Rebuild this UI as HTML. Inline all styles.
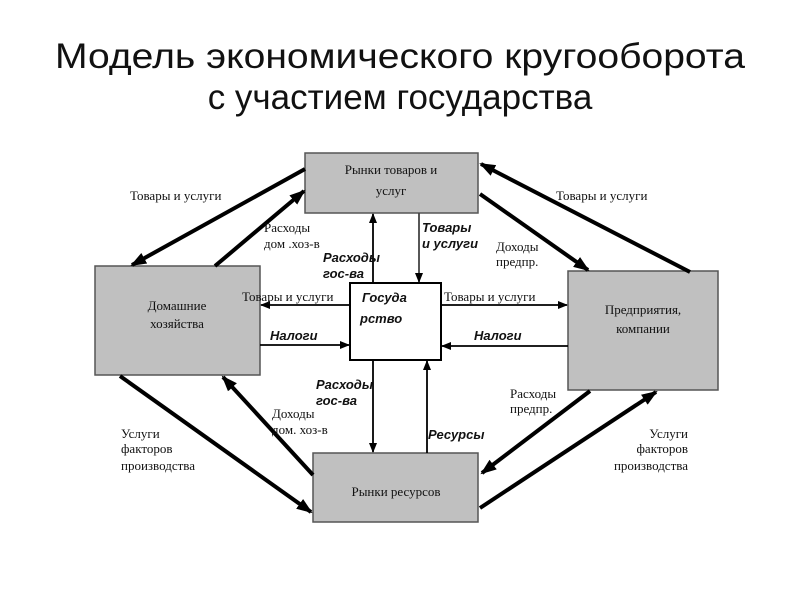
<!DOCTYPE html>
<html><head><meta charset="utf-8"><style>
body{margin:0;background:#fff;}
svg{display:block;}
.t{font-family:"Liberation Serif",serif;font-size:13px;fill:#111;}
.b{font-family:"Liberation Sans",sans-serif;font-size:13px;font-weight:bold;font-style:italic;fill:#111;}
.h{font-family:"Liberation Sans",sans-serif;font-size:35px;fill:#111;}
</style></head><body>
<svg width="800" height="600" viewBox="0 0 800 600">
<defs>
<marker id="a" markerWidth="10" markerHeight="10" refX="9" refY="5" orient="auto" markerUnits="userSpaceOnUse"><path d="M0,1 L10,5 L0,9 z" fill="#000"/></marker>
<marker id="A" markerWidth="16" markerHeight="14" refX="14" refY="7" orient="auto" markerUnits="userSpaceOnUse"><path d="M0,1 L16,7 L0,13 z" fill="#000"/></marker>
</defs>
<text class="h" x="400" y="68" text-anchor="middle" textLength="690" lengthAdjust="spacingAndGlyphs">Модель экономического кругооборота</text>
<text class="h" x="400" y="109" text-anchor="middle">с участием государства</text>

<rect x="305" y="153" width="173" height="60" fill="#c0c0c0" stroke="#555" stroke-width="1.5"/>
<rect x="95" y="266" width="165" height="109" fill="#c0c0c0" stroke="#555" stroke-width="1.5"/>
<rect x="568" y="271" width="150" height="119" fill="#c0c0c0" stroke="#555" stroke-width="1.5"/>
<rect x="313" y="453" width="165" height="69" fill="#c0c0c0" stroke="#555" stroke-width="1.5"/>
<rect x="350" y="283" width="91" height="77" fill="#fff" stroke="#000" stroke-width="2"/>

<text class="t" x="391" y="174" text-anchor="middle" font-size="15">Рынки товаров и</text>
<text class="t" x="391" y="195" text-anchor="middle" font-size="15">услуг</text>
<text class="t" x="177" y="310" text-anchor="middle" font-size="15">Домашние</text>
<text class="t" x="177" y="328" text-anchor="middle" font-size="15">хозяйства</text>
<text class="t" x="643" y="314" text-anchor="middle" font-size="15">Предприятия,</text>
<text class="t" x="643" y="333" text-anchor="middle" font-size="15">компании</text>
<text class="t" x="396" y="496" text-anchor="middle" font-size="15">Рынки ресурсов</text>
<text class="b" x="362" y="302" font-size="16">Госуда</text>
<text class="b" x="360" y="323" font-size="16">рство</text>

<g stroke="#000" stroke-width="4" fill="none">
<line x1="305" y1="169" x2="132" y2="265" marker-end="url(#A)"/>
<line x1="215" y1="266" x2="304" y2="191" marker-end="url(#A)"/>
<line x1="690" y1="272" x2="481" y2="164" marker-end="url(#A)"/>
<line x1="480" y1="194" x2="588" y2="270" marker-end="url(#A)"/>
<line x1="120" y1="376" x2="311" y2="512" marker-end="url(#A)"/>
<line x1="313" y1="475" x2="223" y2="377" marker-end="url(#A)"/>
<line x1="590" y1="391" x2="482" y2="473" marker-end="url(#A)"/>
<line x1="480" y1="508" x2="656" y2="392" marker-end="url(#A)"/>
</g>
<g stroke="#000" stroke-width="1.8" fill="none">
<line x1="373" y1="283" x2="373" y2="214" marker-end="url(#a)"/>
<line x1="419" y1="213" x2="419" y2="282" marker-end="url(#a)" stroke="#444"/>
<line x1="373" y1="360" x2="373" y2="452" marker-end="url(#a)"/>
<line x1="427" y1="453" x2="427" y2="361" marker-end="url(#a)"/>
<line x1="350" y1="305" x2="261" y2="305" marker-end="url(#a)"/>
<line x1="260" y1="345" x2="349" y2="345" marker-end="url(#a)"/>
<line x1="441" y1="305" x2="567" y2="305" marker-end="url(#a)"/>
<line x1="568" y1="346" x2="442" y2="346" marker-end="url(#a)"/>
</g>

<text class="t" x="130" y="200">Товары и услуги</text>
<text class="t" x="556" y="200">Товары и услуги</text>
<text class="t" x="264" y="232">Расходы</text>
<text class="t" x="264" y="248">дом .хоз-в</text>
<text class="b" x="323" y="262">Расходы</text>
<text class="b" x="323" y="278">гос-ва</text>
<text class="b" x="422" y="232">Товары</text>
<text class="b" x="422" y="248">и услуги</text>
<text class="t" x="496" y="251">Доходы</text>
<text class="t" x="496" y="266">предпр.</text>
<text class="t" x="242" y="301">Товары и услуги</text>
<text class="t" x="444" y="301">Товары и услуги</text>
<text class="b" x="270" y="340">Налоги</text>
<text class="b" x="474" y="340">Налоги</text>
<text class="b" x="316" y="389">Расходы</text>
<text class="b" x="316" y="405">гос-ва</text>
<text class="t" x="272" y="418">Доходы</text>
<text class="t" x="272" y="434">дом. хоз-в</text>
<text class="b" x="428" y="439">Ресурсы</text>
<text class="t" x="510" y="398">Расходы</text>
<text class="t" x="510" y="413">предпр.</text>
<text class="t" x="121" y="438">Услуги</text>
<text class="t" x="121" y="453">факторов</text>
<text class="t" x="121" y="470">производства</text>
<text class="t" x="688" y="438" text-anchor="end">Услуги</text>
<text class="t" x="688" y="453" text-anchor="end">факторов</text>
<text class="t" x="688" y="470" text-anchor="end">производства</text>
</svg>
</body></html>
